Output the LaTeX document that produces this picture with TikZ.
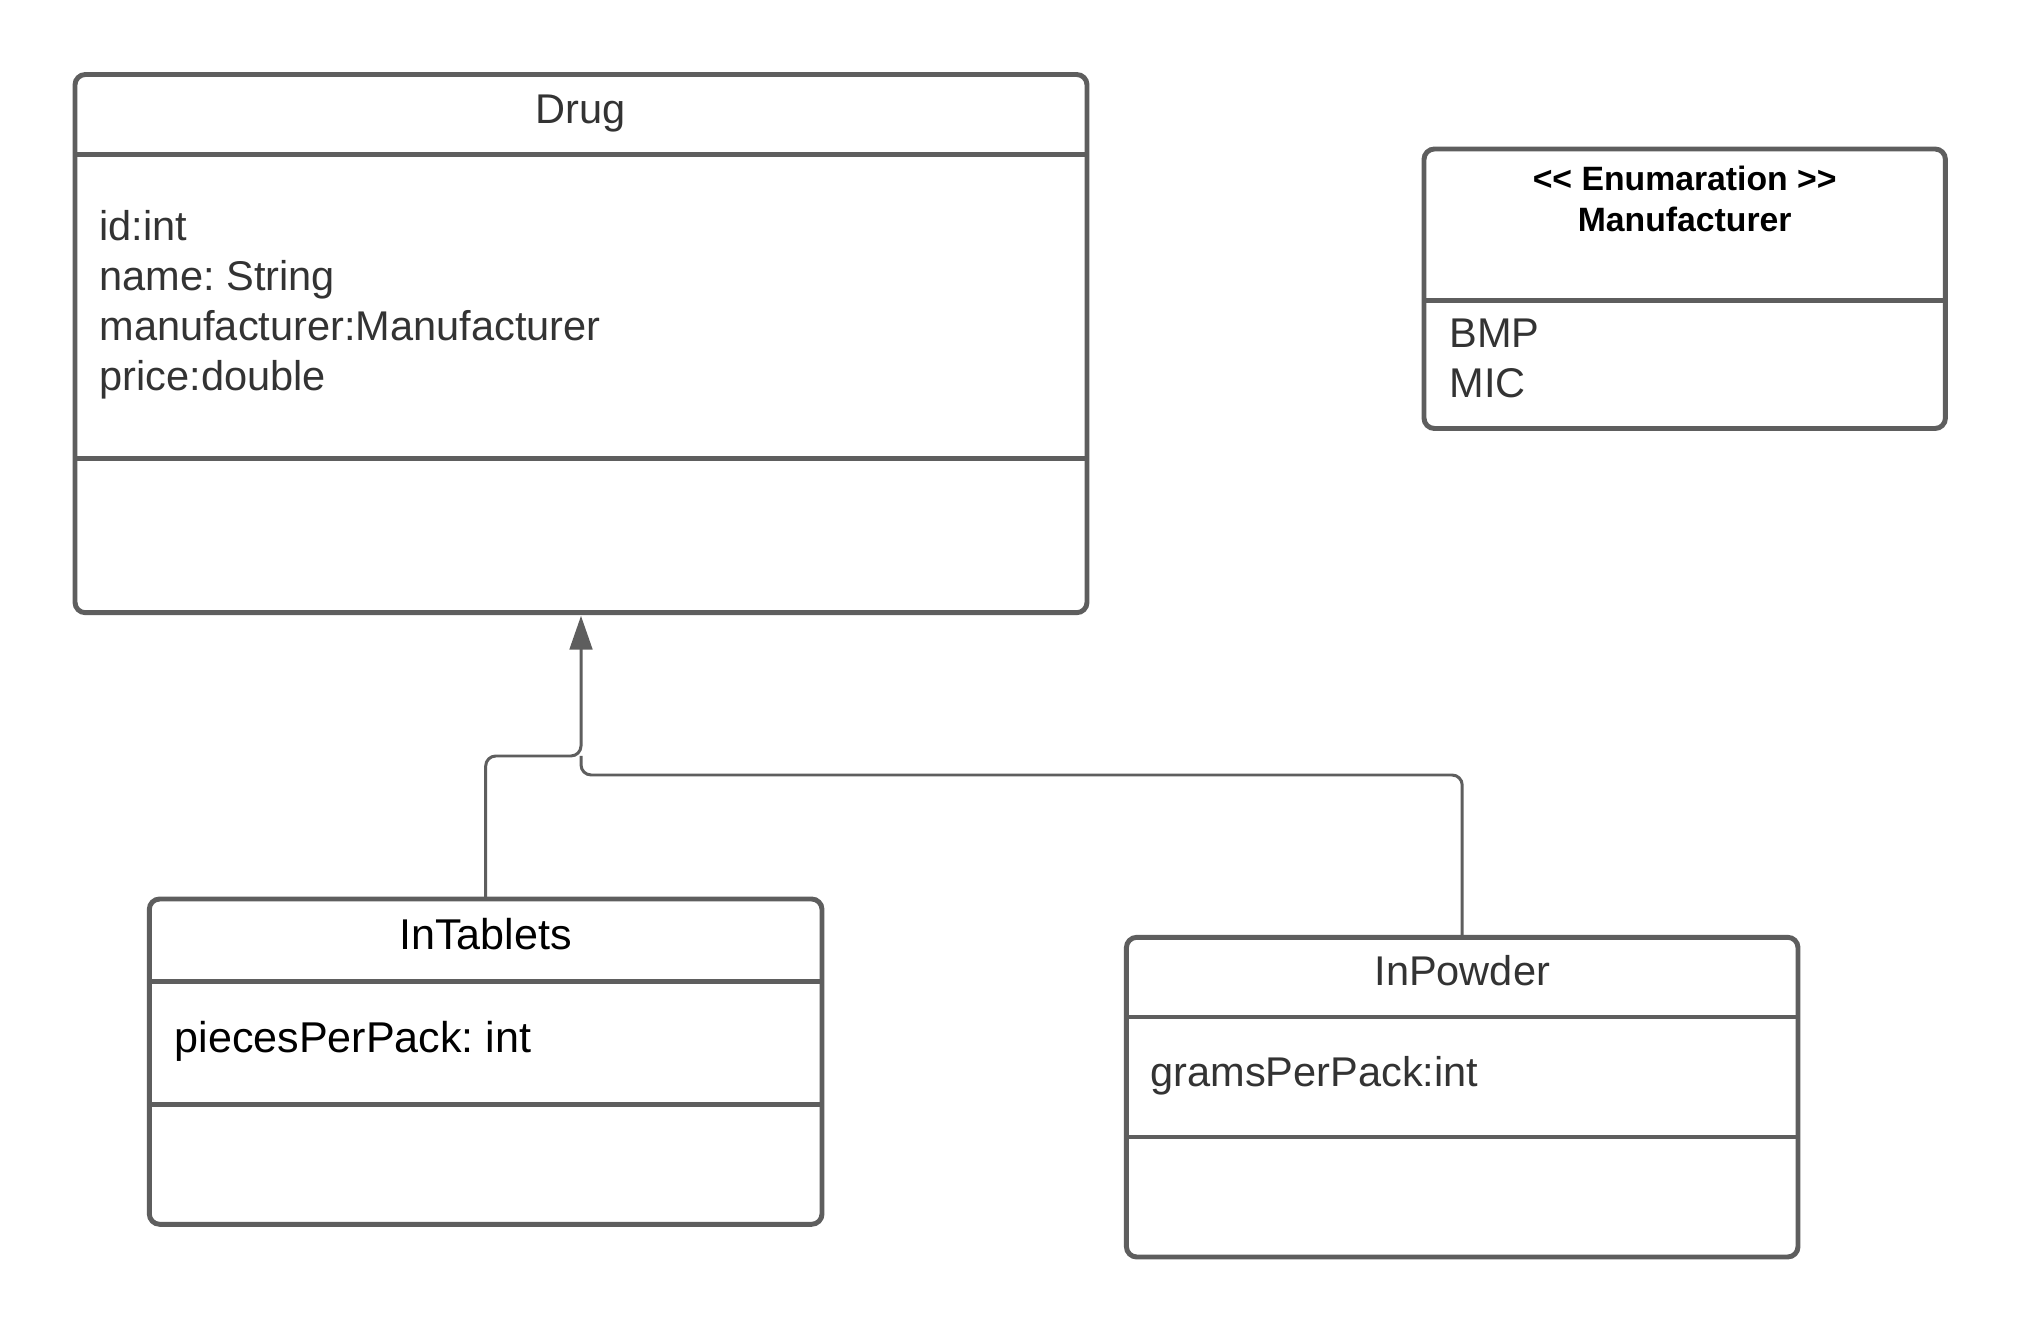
\documentclass[tikz,border=0pt]{standalone}
\usepackage{fontspec}
\setmainfont{Liberation Sans}
\usetikzlibrary{arrows.meta,fit}
\definecolor{linegray}{HTML}{5E5E5E}
\definecolor{txtgray}{HTML}{333333}
\tikzset{
  umlbox/.style={draw=linegray, line width=1.9pt, rounded corners=4pt, inner sep=0pt, outer sep=0pt},
  divline/.style={draw=linegray, line width=1.9pt},
  conn/.style={draw=linegray, line width=1.15pt, rounded corners=3.9pt},
  attr/.style={anchor=base west, inner sep=0pt, font=\fontsize{16}{19.3}\selectfont, text=txtgray},
  ctitle/.style={anchor=base, inner sep=0pt, font=\fontsize{16}{19.3}\selectfont, text=txtgray},
  bigtext/.style={font=\fontsize{16.6}{19.9}\selectfont, text=black},
  etitle/.style={anchor=base, inner sep=0pt, font=\fontsize{13}{15.5}\selectfont\bfseries, text=black},
}
\frenchspacing
\begin{document}
\begin{tikzpicture}[x=0.385185pt, y=-0.385185pt]
\useasboundingbox[fill=white] (0,0) rectangle (2025,1333);

% Drug
\node[umlbox, fit={(75,74.5) (1087,612.7)}] (drug) {};
\draw[divline] (drug.west |- 0,154.5) -- (drug.east |- 0,154.5);
\draw[divline] (drug.west |- 0,458.3) -- (drug.east |- 0,458.3);
\node[ctitle] (drugname) at (581,123.8) {Drug};
\node[attr] (a1) at (99,240.1) {id:int};
\node[attr] (a2) at (99,290.1) {name: String};
\node[attr] (a3) at (99,340.1) {manufacturer:Manufacturer};
\node[attr] (a4) at (99,390.1) {price:double};

% Enumeration
\node[umlbox, fit={(1424,149) (1945.4,428.5)}] (enum) {};
\draw[divline] (enum.west |- 0,300.5) -- (enum.east |- 0,300.5);
\node[etitle] (e1) at (1684.7,190.5) {<\kern0pt< Enumaration >\kern0pt>};
\node[etitle] (e2) at (1684.7,231.5) {Manufacturer};
\node[attr] (v1) at (1449,347.7) {BMP};
\node[attr] (v2) at (1449,397.5) {MIC};

% InTablets
\node[umlbox, fit={(149.3,899) (822,1224.3)}] (tab) {};
\draw[divline] (tab.west |- 0,981.5) -- (tab.east |- 0,981.5);
\draw[divline] (tab.west |- 0,1104.4) -- (tab.east |- 0,1104.4);
\node[ctitle, bigtext] (tabname) at (485.6,949) {InTablets};
\node[attr, bigtext] (t1) at (174,1052.5) {piecesPerPack: int};

% InPowder
\node[umlbox, fit={(1126.4,937.3) (1798,1257)}] (pow) {};
\draw[divline] (pow.west |- 0,1017) -- (pow.east |- 0,1017);
\draw[divline] (pow.west |- 0,1137) -- (pow.east |- 0,1137);
\node[ctitle] (powname) at (1462.2,985.3) {InPowder};
\node[attr] (p1) at (1150,1086.6) {gramsPerPack:int};

% Connectors
\coordinate (j1) at (581,756);
\coordinate (j2) at (581,775);
\draw[conn] (pow.north) |- (j2) -- (j1);
\draw[conn, -{Triangle[width=8.7pt,length=13pt]}, shorten >=1.2pt] (tab.north) |- (j1) -- (drug.south);
\end{tikzpicture}
\end{document}
